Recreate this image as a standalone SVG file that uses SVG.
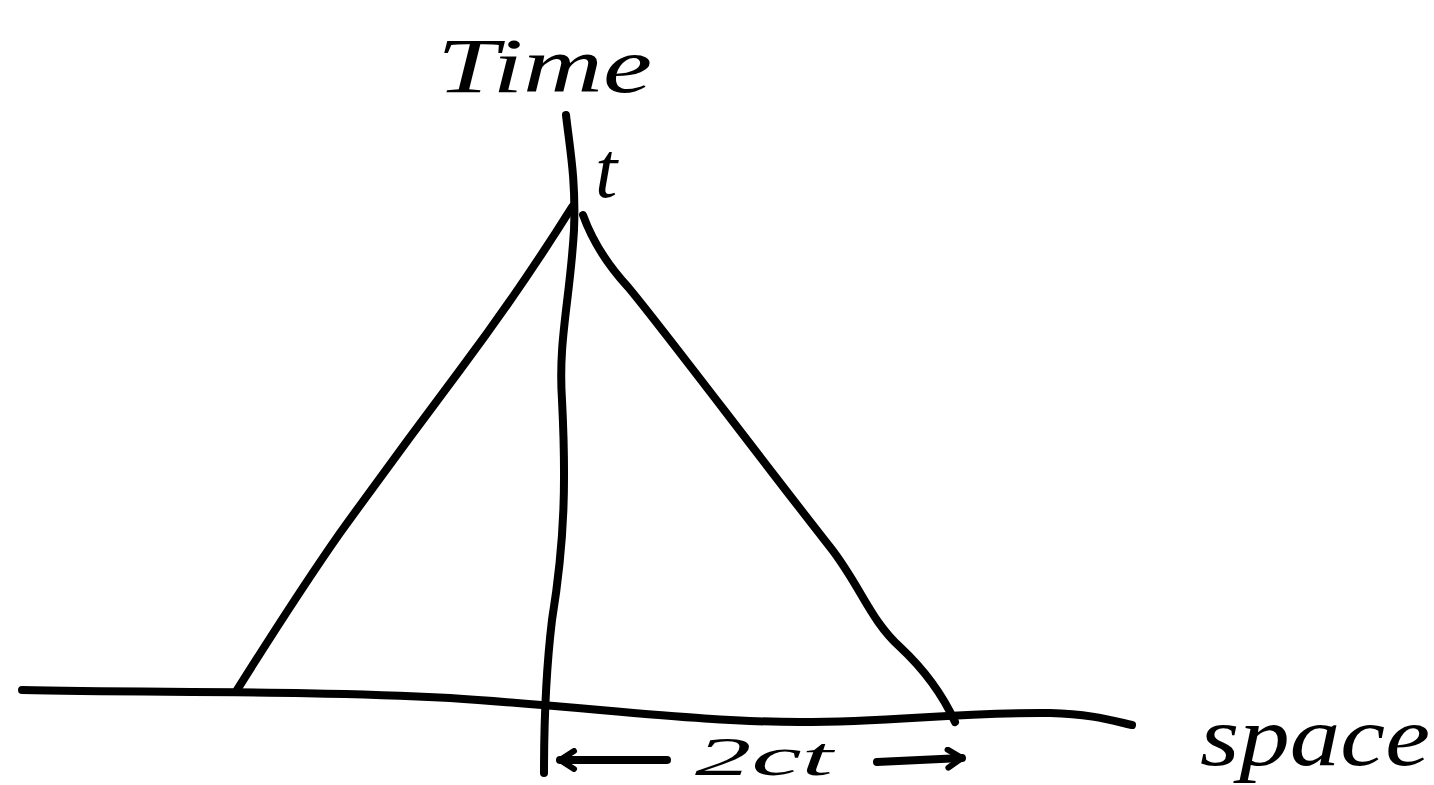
<svg xmlns="http://www.w3.org/2000/svg" width="1434" height="785" viewBox="0 0 1434 785">
  <defs>
    <style>
      .ink { fill: none; stroke: #000; stroke-width: 8; stroke-linecap: round; stroke-linejoin: round; }
      .lbl { font-family: "Liberation Serif", "DejaVu Serif", serif; font-style: italic; fill: #000; }
    </style>
    <marker id="head" viewBox="0 0 24 24" refX="20" refY="12" markerWidth="24" markerHeight="24" markerUnits="userSpaceOnUse" orient="auto">
      <path d="M6,3 L20,12 L6,21" fill="none" stroke="#000" stroke-width="6" stroke-linecap="round" stroke-linejoin="round"/>
    </marker>
  </defs>
  <rect width="1434" height="785" fill="#fff"/>

  <g id="connectors">
    <path id="space-axis" class="ink" d="M22,690 C150,693 300,690 450,698 C600,708 700,722 800,722 C900,722 950,712 1050,713 C1090,714 1110,720 1132,725"/>
    <path id="time-axis" class="ink" d="M566,115 C570,150 576,180 574,230 C570,300 558,340 562,400 C566,480 565,540 552,620 C546,670 544,720 544,773"/>
    <path id="left-cone" class="ink" d="M572,207 Q520,290 460,370 T340,533 Q300,590 237,690"/>
    <path id="right-cone" class="ink" d="M583,215 C592,240 605,262 628,287 C660,325 750,445 830,547 C860,585 870,620 900,647 C930,675 945,700 955,722"/>
    <path id="arrow-left" class="ink" d="M667,760 L560,760" marker-end="url(#head)"/>
    <path id="arrow-right" class="ink" d="M877,762 L962,758" marker-end="url(#head)"/>
  </g>

  <g id="label-time">
    <text class="lbl" x="437" y="92" font-size="78" textLength="215" lengthAdjust="spacingAndGlyphs">Time</text>
  </g>
  <g id="label-t">
    <text class="lbl" x="595" y="197" font-size="80">t</text>
  </g>
  <g id="label-2ct">
    <text class="lbl" x="695" y="775" font-size="54" textLength="138" lengthAdjust="spacingAndGlyphs">2ct</text>
  </g>
  <g id="label-space">
    <text class="lbl" x="1200" y="765" font-size="84" textLength="230" lengthAdjust="spacingAndGlyphs">space</text>
  </g>
</svg>
